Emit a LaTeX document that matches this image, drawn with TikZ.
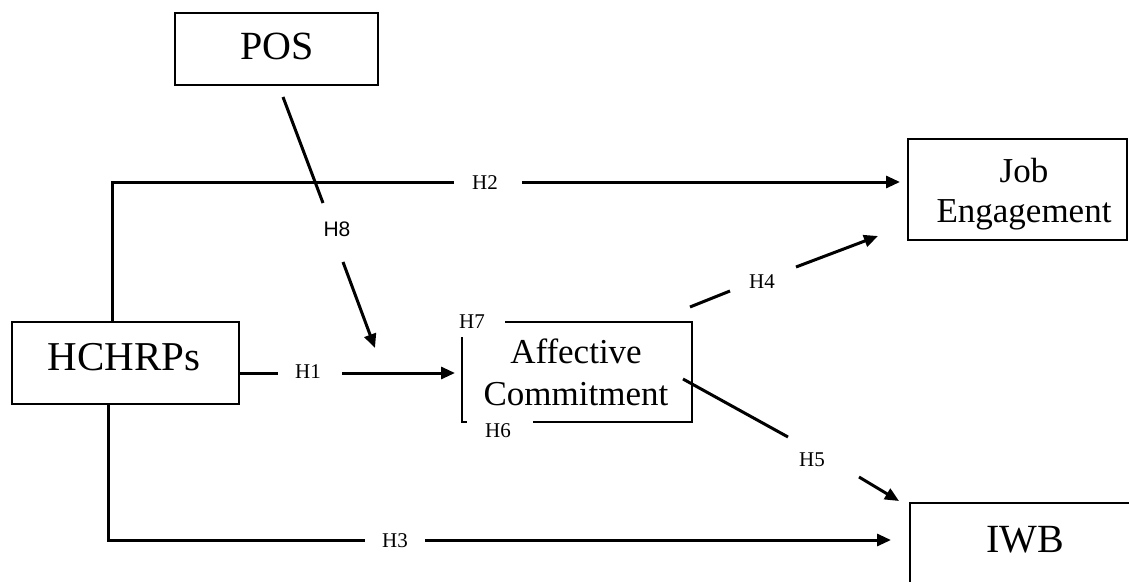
\documentclass[tikz,border=0pt]{standalone}
\usepackage{fontspec}
\setmainfont{Liberation Serif}
\newfontfamily\sansf{Liberation Sans}
\usetikzlibrary{arrows.meta}
\begin{document}
\begin{tikzpicture}[x=1pt,y=-1pt,
  box/.style={draw=black, line width=1.8pt, inner sep=0pt},
  bigtxt/.style={anchor=base, inner sep=0pt, font=\fontsize{40}{40}\selectfont},
  midtxt/.style={anchor=base, inner sep=0pt, font=\fontsize{35}{35}\selectfont},
  hlab/.style={anchor=base, inner sep=0pt, font=\fontsize{21}{21}\selectfont},
  conn/.style={line width=3pt, draw=black},
  arr/.style={conn, -{Triangle[length=14pt,width=12pt]}},
]
\useasboundingbox (0,0) rectangle (1129,581);
\fill[white] (0,0) rectangle (1129,581);
\begin{scope}
\clip (0,0) rectangle (1129,581);
% boxes
\node[box, minimum width=203pt, minimum height=72pt] (pos) at (276.5,49) {};
\node[box, minimum width=227pt, minimum height=82pt] (hchrps) at (125.5,363) {};
\node[box, minimum width=219pt, minimum height=101pt] (je) at (1017.5,189.5) {};
\node[box, minimum width=240pt, minimum height=120pt] (iwb) at (1030,563) {};
\node[inner sep=0pt, minimum width=230pt, minimum height=100pt] (ac) at (577,372) {};
\draw[line width=1.8pt] (505,322) -- (692,322) -- (692,422) -- (533,422);
\draw[line width=1.8pt] (462,337) -- (462,422) -- (467,422);
\end{scope}
% texts
\node[bigtxt] (posT) at (277,59) {POS};
\node[bigtxt, font=\fontsize{41}{41}\selectfont] (hchrpsT) at (124,370) {HCHRPs};
\node[midtxt] (acT1) at (576,363) {Affective};
\node[midtxt] (acT2) at (576,405) {Commitment};
\node[midtxt] (jeT1) at (1024,182) {Job};
\node[midtxt] (jeT2) at (1024,222) {Engagement};
\node[bigtxt] (iwbT) at (1025,552) {IWB};
% connector coordinates
\coordinate (h2s) at (112,322);
\coordinate (h2a) at (454,182);
\coordinate (h2b) at (522,182);
\coordinate (h2t) at (900,182);
\coordinate (h3s) at (108,404);
\coordinate (h3a) at (365,540);
\coordinate (h3b) at (425,540);
\coordinate (h3t) at (891,540);
\coordinate (h1s) at (239,373);
\coordinate (h1a) at (278,373);
\coordinate (h1b) at (342,373);
\coordinate (h1t) at (455,373);
\coordinate (h8s) at (283,97);
\coordinate (h8a) at (323,203);
\coordinate (h8b) at (343,262);
\coordinate (h8t) at (375,348);
\coordinate (h4s) at (690,307);
\coordinate (h4a) at (730,291);
\coordinate (h4b) at (796,267);
\coordinate (h4t) at (878,236);
\coordinate (h5s) at (683,379);
\coordinate (h5a) at (788,437);
\coordinate (h5b) at (859,477);
\coordinate (h5t) at (899,501);
% connectors
\draw[conn] (h2s) |- (h2a);
\draw[arr] (h2b) -- (h2t);
\draw[conn] (h3s) |- (h3a);
\draw[arr] (h3b) -- (h3t);
\draw[conn] (h1s) -- (h1a);
\draw[arr] (h1b) -- (h1t);
\draw[conn] (h8s) -- (h8a);
\draw[arr] (h8b) -- (h8t);
\draw[conn] (h4s) -- (h4a);
\draw[arr] (h4b) -- (h4t);
\draw[conn] (h5s) -- (h5a);
\draw[arr] (h5b) -- (h5t);
% labels
\node[hlab] (lH2) at (485,189) {H2};
\node[hlab] (lH1) at (308,378) {H1};
\node[hlab] (lH3) at (395,547) {H3};
\node[hlab] (lH7) at (472,328) {H7};
\node[hlab] (lH6) at (498,437) {H6};
\node[hlab, font=\sansf\fontsize{21}{21}\selectfont] (lH8) at (337,236) {H8};
\node[hlab] (lH4) at (762,288) {H4};
\node[hlab] (lH5) at (812,466) {H5};
\end{tikzpicture}
\end{document}
